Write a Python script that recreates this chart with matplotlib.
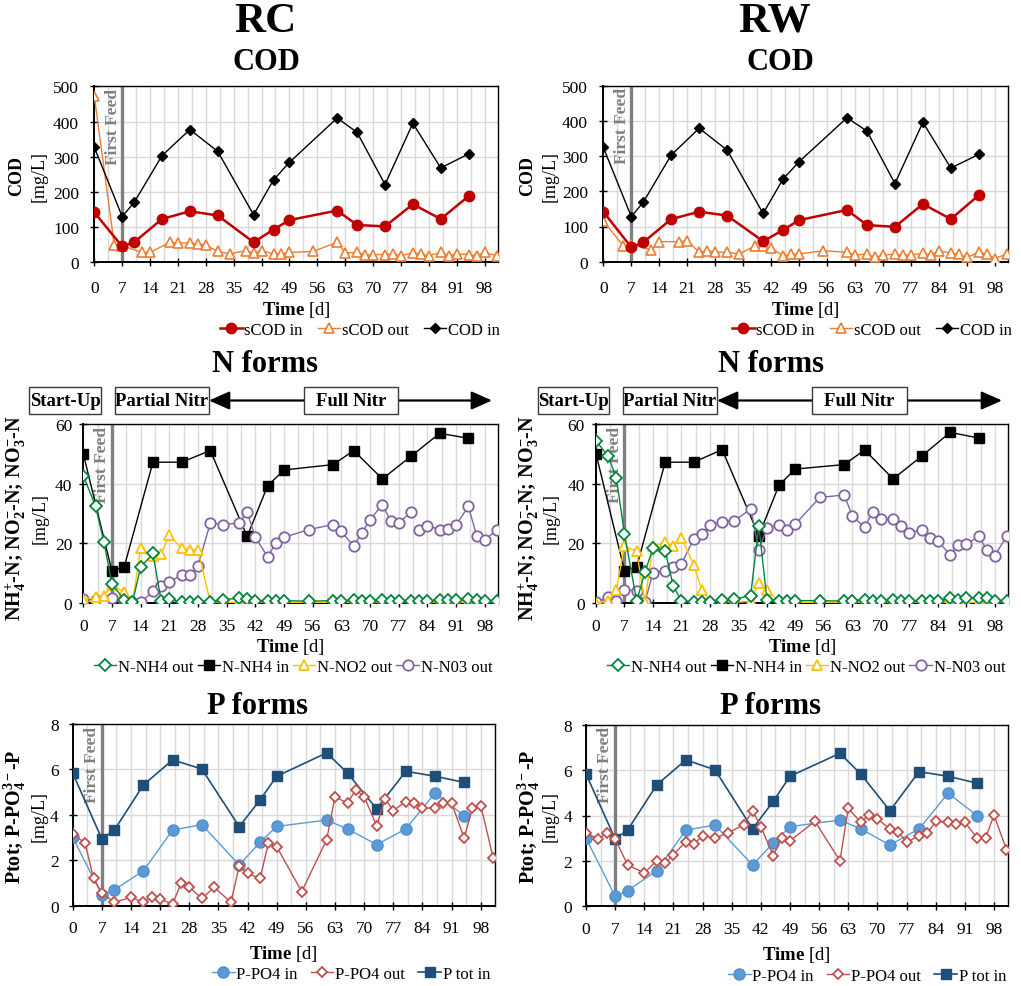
import numpy as np
import matplotlib
matplotlib.use("Agg")
import matplotlib.pyplot as plt
from matplotlib.patches import Rectangle, FancyArrowPatch
import matplotlib.transforms as mtransforms

plt.rcParams['font.family'] = ['Liberation Serif', 'DejaVu Serif']
plt.rcParams['mathtext.fontset'] = 'custom'
plt.rcParams['mathtext.rm'] = 'Liberation Serif'
plt.rcParams['mathtext.bf'] = 'Liberation Serif:bold'
plt.rcParams['mathtext.it'] = 'Liberation Serif:italic'

# ---------------- sampling days ----------------
days_in = [0, 7, 10, 17, 24, 31, 40, 45, 49, 61, 66, 73, 80, 87, 94]
days_cod_out = [0, 5, 7, 12, 14, 19, 21, 24, 26, 28, 31, 34, 38, 40, 42, 45, 47, 49, 55,
                61, 63, 66, 68, 70, 73, 75, 77, 80, 82, 84, 87, 89, 91, 94, 96, 98, 101]
days_n_out = [0, 3, 5, 7, 10, 12, 14, 17, 19, 21, 24, 26, 28, 31, 34, 38, 40, 42, 45, 47,
              49, 55, 61, 63, 66, 68, 70, 73, 75, 77, 80, 82, 84, 87, 89, 91, 94, 96, 98, 101]
days_p_out = [0, 3, 5, 7, 10, 14, 17, 19, 21, 24, 26, 28, 31, 34, 38, 40, 42, 45, 47, 49,
              55, 61, 63, 66, 68, 70, 73, 75, 77, 80, 82, 84, 87, 89, 91, 94, 96, 98, 101]

# ---------------- RC ----------------
rc_scod_in = [142, 45, 57, 123, 145, 133, 57, 93, 120, 147, 106, 102, 165, 123, 188]
rc_scod_out = [472, 50, 47, 28, 28, 57, 55, 55, 52, 49, 31, 24, 33, 27, 33, 24, 24, 28, 31,
               57, 27, 28, 21, 22, 22, 24, 19, 27, 24, 19, 28, 19, 24, 22, 19, 28, 19]
rc_cod_in = [327, 130, 170, 303, 377, 315, 135, 234, 284, 410, 369, 221, 395, 268, 308]

rc_nh4_out = [42.7, 32.4, 20.6, 6.4, 1.0, 0.2, 12.0, 16.6, 0.8, 1.3,
              0.2, 0.2, 0.2, 0.2, 1.1, 1.6, 1.3, 0.6, 0.6, 0.6,
              0.8, 0.6, 0.8, 0.6, 1.0, 0.6, 0.8, 1.0, 0.6, 0.6,
              0.6, 0.8, 0.6, 1.0, 1.0, 1.0, 1.3, 1.1, 0.6, 0.6]
rc_nh4_in = [50.0, 10.6, 12.2, 47.2, 47.2, 51.1, 22.3, 39.3, 44.6, 46.4, 51.1, 41.6, 49.2, 56.9, 55.2]
rc_no2_out = [1.3, 1.9, 2.5, 6.0, 3.6, 0.0, 18.4, 15.6, 16.4, 22.8,
              18.4, 17.9, 17.9, 0.2, 0.2, 0.2, 0.2, 0.2, 0.2, 0.2,
              0.2, 0.2, 0.2, 0.2, 0.2, 0.2, 0.2, 0.2, 0.2, 0.2,
              0.2, 0.2, 0.2, 0.2, 0.2, 0.2, 0.2, 0.2, 0.2, 0.2]
rc_no3_out = [1.3, 1.1, 0.6, 1.7, 0.6, 0.2, 0.2, 3.9, 5.8, 6.9,
              9.5, 9.5, 12.5, 26.8, 26.3, 26.8, 30.4, 22.0, 15.5, 20.1,
              22.0, 24.6, 26.3, 24.0, 19.0, 23.5, 27.9, 33.0, 27.6, 26.8,
              30.6, 24.6, 25.9, 24.6, 24.8, 26.1, 32.4, 22.6, 21.2, 24.5]
rc_no3_break = 31  # no line drawn between day 80 and day 82

rc_po4_in = [3.01, 0.48, 0.70, 1.54, 3.33, 3.57, 1.79, 2.79, 3.49, 3.77, 3.38, 2.69, 3.38, 4.96, 3.96]
rc_po4_out = [3.16, 2.75, 1.20, 0.56, 0.15, 0.37, 0.15, 0.37, 0.29, 0.07,
              0.98, 0.81, 0.32, 0.81, 0.15, 1.76, 1.42, 1.20, 2.75, 2.60,
              0.62, 2.91, 4.80, 4.51, 5.11, 4.80, 3.52, 4.70, 4.19, 4.58,
              4.52, 4.30, 4.30, 4.52, 4.52, 2.98, 4.30, 4.41, 2.10]
rc_ptot_in = [5.84, 2.94, 3.33, 5.32, 6.42, 6.02, 3.48, 4.66, 5.70, 6.73, 5.84, 4.26, 5.92, 5.70, 5.43]

# ---------------- RW ----------------
rw_scod_in = [142, 41, 55, 121, 142, 131, 58, 90, 118, 147, 104, 99, 164, 121, 189]
rw_scod_out = [116, 45, 48, 34, 57, 57, 60, 27, 31, 27, 27, 22, 45, 45, 39, 17, 21, 22, 31,
               27, 19, 22, 12, 19, 21, 19, 19, 24, 19, 31, 24, 21, 12, 27, 21, 9, 22]
rw_cod_in = [325, 128, 169, 303, 379, 317, 137, 235, 284, 409, 371, 222, 396, 266, 305]

rw_nh4_out = [54.4, 49.2, 41.9, 23.1, 0.6, 10.3, 18.3, 17.5, 5.6, 0.8,
              0.2, 0.2, 0.2, 1.1, 1.3, 2.5, 25.9, 1.1, 0.8, 0.8,
              0.8, 0.8, 0.6, 0.8, 1.1, 0.8, 0.8, 1.1, 0.8, 0.6,
              0.8, 0.8, 0.6, 1.6, 1.1, 1.7, 1.6, 1.7, 0.8, 0.6]
rw_nh4_in = [50.0, 10.8, 12.2, 47.2, 47.2, 51.4, 22.6, 39.6, 44.9, 46.4, 51.3, 41.6, 49.2, 57.2, 55.3]
rw_no2_out = [0.0, 0.6, 4.5, 19.2, 17.3, 0.2, 19.2, 20.3, 19.2, 21.8,
              12.8, 4.5, 0.6, 0.6, 0.2, 0.6, 6.6, 4.5, 0.2, 0.2,
              0.2, 0.2, 0.2, 0.2, 0.2, 0.2, 0.2, 0.2, 0.2, 0.2,
              0.2, 0.2, 0.2, 0.2, 0.2, 0.2, 0.2, 0.2, 0.2, 0.2]
rw_no3_out = [0.2, 1.9, 0.8, 4.5, 4.1, 0.2, 10.1, 10.8, 12.0, 13.1,
              21.5, 23.1, 26.3, 27.3, 27.6, 31.5, 17.9, 25.1, 26.3, 24.6,
              26.5, 35.4, 36.2, 29.1, 25.4, 30.6, 28.2, 28.2, 25.9, 23.5,
              24.5, 21.7, 20.7, 16.2, 19.6, 19.8, 22.3, 17.9, 15.9, 22.6]

rw_po4_in = [3.00, 0.44, 0.69, 1.57, 3.36, 3.58, 1.82, 2.79, 3.51, 3.80, 3.41, 2.70, 3.41, 4.98, 3.99]
rw_po4_out = [3.22, 2.97, 3.22, 2.97, 1.82, 1.47, 2.01, 1.91, 2.28, 2.85,
              2.75, 3.11, 3.01, 3.22, 3.60, 4.21, 3.51, 2.23, 3.01, 2.89,
              3.74, 2.01, 4.32, 3.70, 4.02, 3.85, 3.41, 3.29, 2.82, 3.11,
              3.22, 3.74, 3.70, 3.63, 3.70, 3.01, 3.01, 4.02, 2.50]
rw_ptot_in = [5.83, 2.97, 3.36, 5.35, 6.45, 6.01, 3.41, 4.63, 5.73, 6.74, 5.83, 4.21, 5.93, 5.73, 5.42]

first_feed_day = 7
x_ticks = list(range(0, 99, 7))

# ---------------- figure ----------------
W, H = 1021, 987
fig = plt.figure(figsize=(W / 100, H / 100), dpi=100)


def px_axes(x0, x1, ytop, ybot):
    return fig.add_axes([x0 / W, 1 - ybot / H, (x1 - x0) / W, (ybot - ytop) / H])


def fxy(x, y):
    return x / W, 1 - y / H


GRID = '#d9d9d9'


def style_axes(ax, ymax, ystep, xpad, ypad, labelpad, xmax=101.3):
    ax.set_xlim(0, xmax)
    ax.set_ylim(0, ymax)
    ax.set_xticks(x_ticks)
    ax.set_xticks(np.arange(3.5, xmax, 7), minor=True)
    ax.set_yticks(np.arange(0, ymax + 1e-9, ystep))
    ax.grid(which='major', color=GRID, lw=1)
    ax.grid(which='minor', axis='x', color=GRID, lw=1)
    ax.set_axisbelow(True)
    ax.tick_params(which='major', direction='inout', length=6, width=1, labelsize=12.5)
    ax.tick_params(axis='x', which='major', pad=xpad)
    ax.tick_params(axis='y', which='major', pad=ypad)
    ax.tick_params(which='minor', length=0)
    for s in ax.spines.values():
        s.set_color('black')
        s.set_linewidth(1)
    ax.spines['left'].set_linewidth(1.4)
    ax.spines['bottom'].set_linewidth(1.4)
    ax.set_xlabel(r"$\mathbf{Time}$ [d]", fontsize=13.5, labelpad=labelpad)
    # first feed marker
    ax.axvline(first_feed_day, color='#808080', lw=2.4, zorder=1.6)
    trans = mtransforms.blended_transform_factory(ax.transData, ax.transAxes)
    ax.annotate("First Feed", xy=(first_feed_day, 1.0), xycoords=trans,
                xytext=(-1.2, -1), textcoords='offset points', rotation=90,
                ha='right', va='top', fontsize=12.5, fontweight='bold',
                color='#7f7f7f', zorder=3)


def ylabels(xb, xn, yc, bold_text, size):
    fig.text(*fxy(xb, yc), bold_text, rotation=90, ha='center', va='center',
             fontsize=size, fontweight='bold')
    fig.text(*fxy(xn, yc), "[mg/L]", rotation=90, ha='center', va='center',
             fontsize=13)


def legend(ax, cx, cy, ncol, colsp):
    ax.legend(loc='center', bbox_to_anchor=fxy(cx, cy), bbox_transform=fig.transFigure,
              ncol=ncol, frameon=False, fontsize=12, handlelength=1.35,
              handletextpad=0.1, columnspacing=colsp, borderpad=0, borderaxespad=0)


def title(x, y, text, size):
    fig.text(*fxy(x, y), text, ha='center', va='center', fontsize=size, fontweight='bold')


def cod_panel(ax, scod_in, scod_out, cod_in):
    style_axes(ax, 500, 100, xpad=10, ypad=8, labelpad=2)
    ax.plot(days_in, scod_in, color='#c00000', marker='o', ms=7.5, lw=1.8,
            label='sCOD in', zorder=4)
    ax.plot(days_cod_out, scod_out, color='#ed7d31', marker='^', ms=6.5, mfc='white',
            mew=1.2, lw=1, label='sCOD out', zorder=3)
    ax.plot(days_in, cod_in, color='black', marker='D', ms=5, lw=1,
            label='COD in', zorder=5)


def n_panel(ax, nh4_out, nh4_in, no2_out, no3_out, no3_break=None):
    style_axes(ax, 60, 20, xpad=7.5, ypad=5, labelpad=2)
    ax.plot(days_n_out, nh4_out, color='#00853e', marker='D', ms=6, mfc='white',
            mew=1.3, lw=1, label='N-NH4 out', zorder=4)
    ax.plot(days_in, nh4_in, color='black', marker='s', ms=7.5, lw=1,
            label='N-NH4 in', zorder=3)
    ax.plot(days_n_out, no2_out, color='#ffc000', marker='^', ms=7.5, mfc='white',
            mew=1.3, lw=1, label='N-NO2 out', zorder=3.5)
    st = dict(color='#8064a2', marker='o', ms=7.5, mfc='white', mew=1.3, lw=1, zorder=3)
    if no3_break is None:
        ax.plot(days_n_out, no3_out, label='N-N03 out', **st)
    else:
        ax.plot(days_n_out[:no3_break], no3_out[:no3_break], label='N-N03 out', **st)
        ax.plot(days_n_out[no3_break:], no3_out[no3_break:], **st)


def p_panel(ax, po4_in, po4_out, ptot_in):
    style_axes(ax, 8, 2, xpad=7.5, ypad=7, labelpad=5)
    ax.plot(days_in, po4_in, color='#5b9bd5', marker='o', ms=8, mfc='#5b9bd5',
            mec='#4f8fcf', lw=1, label='P-PO4 in', zorder=3)
    ax.plot(days_p_out, po4_out, color='#c0504d', marker='D', ms=5, mfc='white',
            mew=1.3, lw=1, label='P-PO4 out', zorder=4)
    ax.plot(days_in, ptot_in, color='#1f4e79', marker='s', ms=7, lw=1.2,
            label='P tot in', zorder=3.5)


def phase_boxes(start_box, partial_box, full_box, arrow_x0, arrow_x1, y0, y1):
    yc = (y0 + y1) / 2
    arr = FancyArrowPatch(fxy(arrow_x0, yc), fxy(arrow_x1, yc),
                          transform=fig.transFigure,
                          arrowstyle='<|-|>,head_length=0.9,head_width=0.4',
                          mutation_scale=14, color='black', lw=1.6,
                          shrinkA=0, shrinkB=0, zorder=4)
    fig.add_artist(arr)
    for (bx0, bx1), txt in zip([start_box, partial_box, full_box],
                               ["Start-Up", "Partial Nitr", "Full Nitr"]):
        fig.add_artist(Rectangle(fxy(bx0, y1), (bx1 - bx0) / W, (y1 - y0) / H,
                                 transform=fig.transFigure, fc='white',
                                 ec='#3a3a3a', lw=1, zorder=5))
        fig.text(*fxy((bx0 + bx1) / 2, yc + 0.5), txt, ha='center', va='center',
                 fontsize=13.5, fontweight='bold', zorder=6)


# ---- top titles ----
title(265, 22, "RC", 31)
title(775, 22, "RW", 31)

# ---- COD ----
title(266, 63, "COD", 22)
title(780, 63, "COD", 22)
ax1 = px_axes(94.3, 497.7, 87.3, 263.3)
cod_panel(ax1, rc_scod_in, rc_scod_out, rc_cod_in)
legend(ax1, 360, 331, 3, 0.9)
ylabels(17, 39, 176, "COD", 13)

ax2 = px_axes(603.3, 1008, 86.7, 262.7)
cod_panel(ax2, rw_scod_in, rw_scod_out, rw_cod_in)
legend(ax2, 872, 331, 3, 0.9)
ylabels(528, 550, 176, "COD", 13)

# ---- N forms ----
n_label = (r"NH$_\mathbf{4}^\mathbf{+}$-N; NO$_\mathbf{2}^\mathbf{-}$-N; "
           r"NO$_\mathbf{3}^\mathbf{-}$-N")
title(265, 365, "N forms", 22)
title(771, 365, "N forms", 22)
ax3 = px_axes(83.3, 498.3, 425, 604)
n_panel(ax3, rc_nh4_out, rc_nh4_in, rc_no2_out, rc_no3_out, rc_no3_break)
legend(ax3, 293, 668, 4, 0.25)
ylabels(16, 40, 518, n_label, 14.5)
phase_boxes((29, 101), (115, 209), (304, 398), 209, 492, 388, 415)

ax4 = px_axes(596, 1008.3, 425, 604)
n_panel(ax4, rw_nh4_out, rw_nh4_in, rw_no2_out, rw_no3_out)
legend(ax4, 806, 668, 4, 0.25)
ylabels(529, 551, 518, n_label, 14.5)
phase_boxes((538, 609), (623, 717), (812, 907), 717, 1002, 388, 415)

# ---- P forms ----
p_label = r"Ptot; P-PO$_\mathbf{4}^\mathbf{3-}$-P"
title(257, 707, "P forms", 22)
title(770, 707, "P forms", 22)
ax5 = px_axes(72.7, 494.5, 725, 906.7)
p_panel(ax5, rc_po4_in, rc_po4_out, rc_ptot_in)
legend(ax5, 351, 975, 3, 0.8)
ylabels(15, 39, 817, p_label, 14.5)

ax6 = px_axes(586, 1007.7, 725.7, 907.3)
p_panel(ax6, rw_po4_in, rw_po4_out, rw_ptot_in)
legend(ax6, 867, 977, 3, 0.8)
ylabels(529, 550, 817, p_label, 14.5)

fig.savefig("out.png", dpi=100)
